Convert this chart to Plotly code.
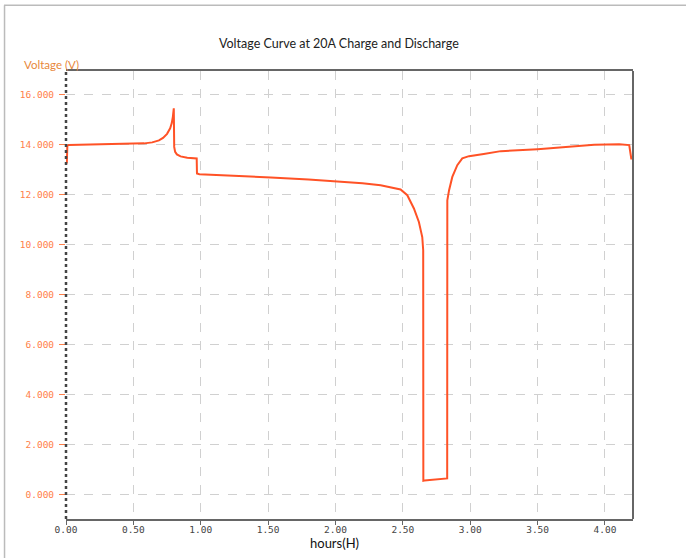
import plotly.graph_objects as go

hours = [0.006, 0.010, 0.02, 0.1, 0.3, 0.5, 0.58, 0.64, 0.69, 0.72, 0.75, 0.773, 0.785, 0.793, 0.800,
         0.803, 0.81, 0.823, 0.85, 0.9, 0.97, 0.972, 0.99, 1.2, 1.37, 1.52, 1.8, 2.0, 2.2,
         2.335, 2.43, 2.483, 2.533, 2.582, 2.619, 2.644, 2.651, 2.652, 2.66, 2.75, 2.829,
         2.830, 2.843, 2.867, 2.904, 2.941, 2.991, 3.1, 3.227, 3.5, 3.673, 3.846, 3.92,
         4.106, 4.18, 4.195, 4.208]
voltage = [13.24, 13.95, 13.97, 13.98, 14.0, 14.02, 14.04, 14.08, 14.16, 14.26, 14.42, 14.64,
           14.85, 15.1, 15.44, 13.9, 13.7, 13.6, 13.52, 13.47, 13.44, 12.84, 12.81, 12.76,
           12.73, 12.68, 12.6, 12.53, 12.45, 12.37, 12.28, 12.2, 11.97, 11.44, 10.9, 10.3,
           9.77, 0.57, 0.58, 0.62, 0.66, 11.77, 12.17, 12.7, 13.17, 13.44, 13.53, 13.62,
           13.73, 13.81, 13.87, 13.93, 13.98, 14.0, 13.97, 13.44, 13.44]

x_ticks = [0, 0.5, 1.0, 1.5, 2.0, 2.5, 3.0, 3.5, 4.0]
y_ticks = [0, 2, 4, 6, 8, 10, 12, 14, 16]

title_text = "Voltage Curve at 20A Charge and Discharge"
y_title = "Voltage (V)"
x_title = "hours(H)"

LINE = "#FF5226"
ORANGE = "#FF7F4A"
AXIS = "#666666"
GRID = "#D0D0D0"

fig = go.Figure()
fig.add_trace(go.Scatter(x=hours, y=voltage, mode="lines",
                         line=dict(color=LINE, width=2), showlegend=False,
                         hoverinfo="skip"))

fig.update_layout(
    width=686, height=558,
    margin=dict(l=66, r=53, t=71, b=39),
    paper_bgcolor="white", plot_bgcolor="white",
    xaxis=dict(range=[0, 4.208], tickvals=x_ticks,
               ticktext=[f"{v:.2f}" for v in x_ticks],
               showgrid=True, gridcolor=GRID, griddash="dash", gridwidth=1,
               zeroline=False, showline=True, linecolor=AXIS, linewidth=2,
               mirror=True, ticks="outside", ticklen=4, tickcolor=AXIS,
               ticklabelstandoff=-3,
               tickfont=dict(family="DejaVu Sans Mono", size=9.5, color="#444444")),
    yaxis=dict(range=[-0.96, 16.93], tickvals=y_ticks,
               ticktext=[f"{v:.3f}" for v in y_ticks],
               showgrid=True, gridcolor=GRID, griddash="dash", gridwidth=1,
               zeroline=False, showline=False, ticks="outside", ticklen=6,
               tickcolor=ORANGE, ticklabelstandoff=3,
               tickfont=dict(family="DejaVu Sans Mono", size=9.5, color=ORANGE)),
    annotations=[
        dict(text=title_text, x=0.481, y=1.0625, xref="paper", yref="paper",
             xanchor="center", yanchor="middle", showarrow=False,
             font=dict(family="Lato", size=12.5, color="#222222")),
        dict(text=y_title, x=-0.0776, y=1.0156, xref="paper", yref="paper",
             xanchor="left", yanchor="middle", showarrow=False,
             font=dict(family="Lato", size=11.5, color="#E8883A")),
        dict(text=x_title, x=0.4727, y=-0.0536, xref="paper", yref="paper",
             xanchor="center", yanchor="middle", showarrow=False,
             font=dict(family="Lato", size=13, color="#111111")),
    ],
    shapes=[
        dict(type="line", xref="paper", yref="paper", x0=1, x1=1, y0=0, y1=1,
             line=dict(color=AXIS, width=2)),
        dict(type="line", xref="paper", yref="paper", x0=0, x1=0, y0=0, y1=1,
             line=dict(color="#444444", width=2.5, dash="dot")),
        dict(type="line", xref="paper", yref="paper", x0=-0.1093, x1=1.1, y0=1.147, y1=1.147,
             line=dict(color="#BBBBBB", width=1.5)),
        dict(type="line", xref="paper", yref="paper", x0=-0.1084, x1=-0.1084, y0=1.147, y1=-0.1,
             line=dict(color="#BBBBBB", width=1.5)),
    ],
)

fig.write_html("out.html", config={"displayModeBar": False},
               post_script="document.body.style.margin='0px';")
